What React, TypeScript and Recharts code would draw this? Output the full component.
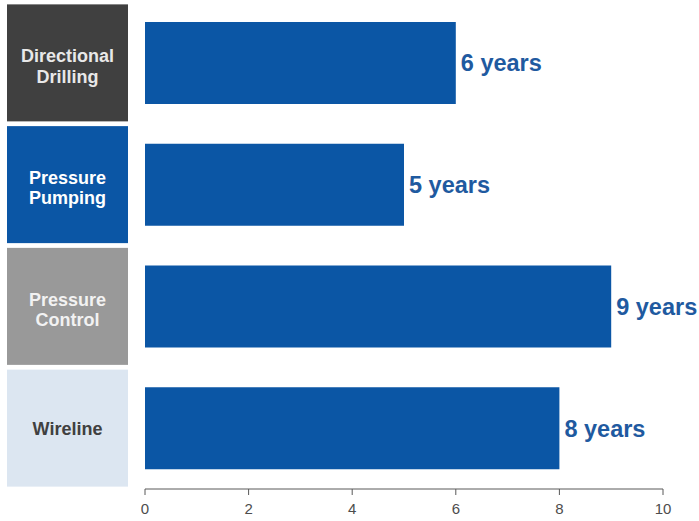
import React from "react";
import { BarChart, Bar, XAxis, YAxis, LabelList } from "recharts";

const categories = ["Directional Drilling", "Pressure Pumping", "Pressure Control", "Wireline"];
const years = [6, 5, 9, 8];
const xTicks = [0, 2, 4, 6, 8, 10];
const boxFills = ["#404040", "#0b56a5", "#999999", "#dce6f1"];
const boxTextColors = ["#e8e8e8", "#ffffff", "#f2f2f2", "#404040"];

const data = categories.map((c, i) => ({ name: c, value: years[i] }));

const FONT = "'Liberation Sans', Arial, sans-serif";

const CategoryBox = (props: any) => {
  const { y, payload, index } = props;
  const i = index ?? categories.indexOf(payload.value);
  const h = 117;
  const words = String(payload.value).split(" ");
  const lineH = 20.5;
  const startY = y - ((words.length - 1) * lineH) / 2;
  const dy = words.length > 1 ? 9.5 : 6.5;
  return (
    <g>
      <rect x={7} y={y - h / 2} width={121} height={h} fill={boxFills[i]} />
      {words.map((w, k) => (
        <text
          key={k}
          x={67.5}
          y={startY + k * lineH}
          dy={dy}
          textAnchor="middle"
          fontFamily={FONT}
          fontWeight="bold"
          fontSize={18}
          fill={boxTextColors[i]}
        >
          {w}
        </text>
      ))}
    </g>
  );
};

export default function App() {
  return (
    <div style={{ position: "absolute", left: 0, top: 0, background: "#fff" }}>
      <BarChart
        width={699}
        height={521}
        data={data}
        layout="vertical"
        margin={{ top: 2, right: 36, bottom: 0, left: 0 }}
        barCategoryGap="16.5%"
      >
        <XAxis
          type="number"
          domain={[0, 10]}
          ticks={xTicks}
          height={32}
          stroke="#595959"
          tickSize={6}
          tick={{ fill: "#4d4d4d", fontSize: 15, fontFamily: FONT }}
          tickMargin={8}
        />
        <YAxis
          type="category"
          dataKey="name"
          width={145}
          axisLine={false}
          tickLine={false}
          tick={<CategoryBox />}
        />
        <Bar dataKey="value" fill="#0b56a5" isAnimationActive={false}>
          <LabelList
            dataKey="value"
            position="right"
            offset={5}
            formatter={(v: any) => `${v} years`}
            fill="#1f5aa0"
            fontSize={23.5}
            fontWeight="bold"
            fontFamily={FONT}
          />
        </Bar>
      </BarChart>
    </div>
  );
}
